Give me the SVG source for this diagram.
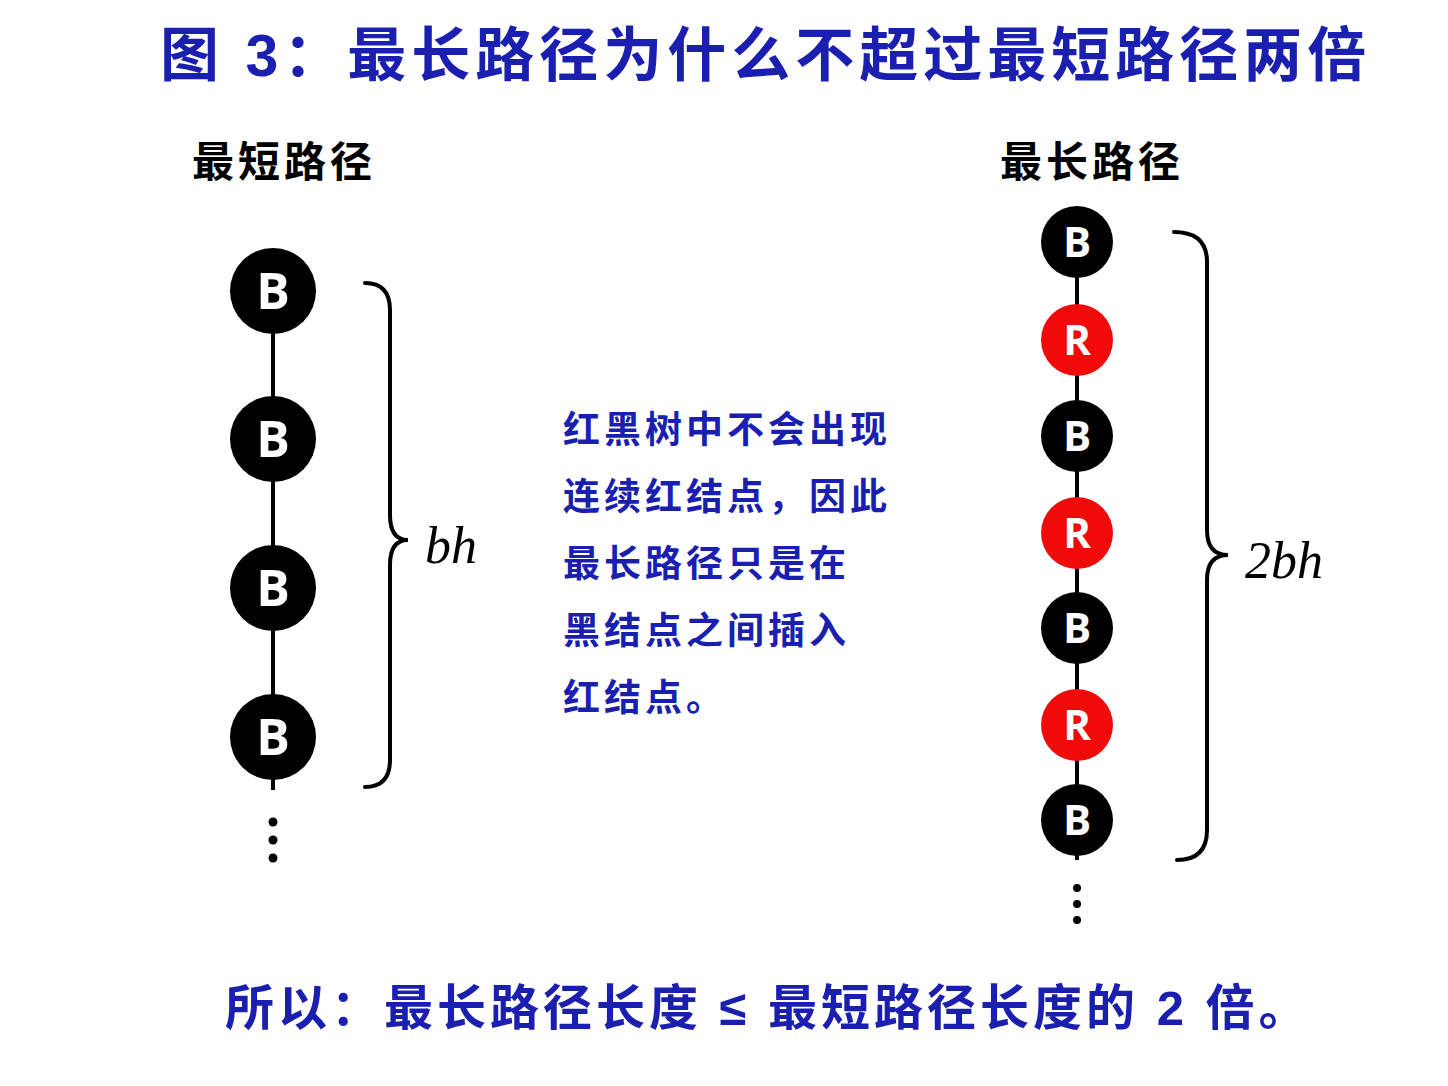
<svg xmlns="http://www.w3.org/2000/svg" width="1448" height="1086" viewBox="0 0 1448 1086">
<style>
.t{font-family:"Liberation Sans","Noto Sans CJK SC",sans-serif;font-weight:bold}
.blue{fill:#1a1fb0}
.bn{fill:#000}
.rn{fill:#f00a0a}
.lb{fill:#fff;font-family:"Open Sans","Liberation Sans",sans-serif;font-weight:bold;text-anchor:middle}
.ln{stroke:#000;stroke-width:4;fill:none}
.br{stroke:#000;stroke-width:4;fill:none;stroke-linecap:round}
.m{font-family:"Liberation Serif",serif;font-style:italic;font-size:52px}
</style>
<rect width="1448" height="1086" fill="#fff"/>
<text class="t blue" x="160" y="76" font-size="59" letter-spacing="5">图 3：最长路径为什么不超过最短路径两倍</text>
<text class="t" x="192" y="177" font-size="42" letter-spacing="4">最短路径</text>
<text class="t" x="1000" y="177" font-size="42" letter-spacing="4">最长路径</text>
<g id="connectors">
<line class="ln" x1="273" y1="291" x2="273" y2="790"/>
<line class="ln" x1="1077" y1="242" x2="1077" y2="860"/>
</g>
<g id="L1"><circle class="bn" cx="273" cy="291" r="43"/><text class="lb" x="273" y="309" font-size="50">B</text></g>
<g id="L2"><circle class="bn" cx="273" cy="439" r="43"/><text class="lb" x="273" y="457" font-size="50">B</text></g>
<g id="L3"><circle class="bn" cx="273" cy="588" r="43"/><text class="lb" x="273" y="606" font-size="50">B</text></g>
<g id="L4"><circle class="bn" cx="273" cy="737" r="43"/><text class="lb" x="273" y="755" font-size="50">B</text></g>
<g id="Ldots"><circle cx="273" cy="822" r="4.5"/><circle cx="273" cy="840" r="4.5"/><circle cx="273" cy="858" r="4.5"/></g>
<g id="R1"><circle class="bn" cx="1077" cy="242" r="36"/><text class="lb" x="1077" y="257" font-size="42">B</text></g>
<g id="R2"><circle class="rn" cx="1077" cy="340" r="36"/><text class="lb" x="1077" y="355" font-size="42">R</text></g>
<g id="R3"><circle class="bn" cx="1077" cy="436" r="36"/><text class="lb" x="1077" y="451" font-size="42">B</text></g>
<g id="R4"><circle class="rn" cx="1077" cy="533" r="36"/><text class="lb" x="1077" y="548" font-size="42">R</text></g>
<g id="R5"><circle class="bn" cx="1077" cy="628" r="36"/><text class="lb" x="1077" y="643" font-size="42">B</text></g>
<g id="R6"><circle class="rn" cx="1077" cy="725" r="36"/><text class="lb" x="1077" y="740" font-size="42">R</text></g>
<g id="R7"><circle class="bn" cx="1077" cy="820" r="36"/><text class="lb" x="1077" y="835" font-size="42">B</text></g>
<g id="Rdots"><circle cx="1077" cy="888" r="4"/><circle cx="1077" cy="904" r="4"/><circle cx="1077" cy="920" r="4"/></g>
<path class="br" d="M365,283 Q390,283 390,310 L390,515 Q390,540 408,540 Q390,540 390,565 L390,760 Q390,787 365,787"/>
<text class="m" x="425" y="563">bh</text>
<path class="br" d="M1174,232 Q1207,232 1207,262 L1207,530 Q1207,555 1228,555 Q1207,555 1207,580 L1207,830 Q1207,860 1177,860"/>
<text class="m" x="1245" y="578">2bh</text>
<g class="t blue" font-size="37" letter-spacing="4">
<text x="563" y="443">红黑树中不会出现</text>
<text x="563" y="510">连续红结点，因此</text>
<text x="563" y="577">最长路径只是在</text>
<text x="563" y="644">黑结点之间插入</text>
<text x="563" y="711">红结点。</text>
</g>
<text class="t blue" x="225" y="1025" font-size="49" letter-spacing="4">所以：最长路径长度 ≤ 最短路径长度的 2 倍。</text>
</svg>
